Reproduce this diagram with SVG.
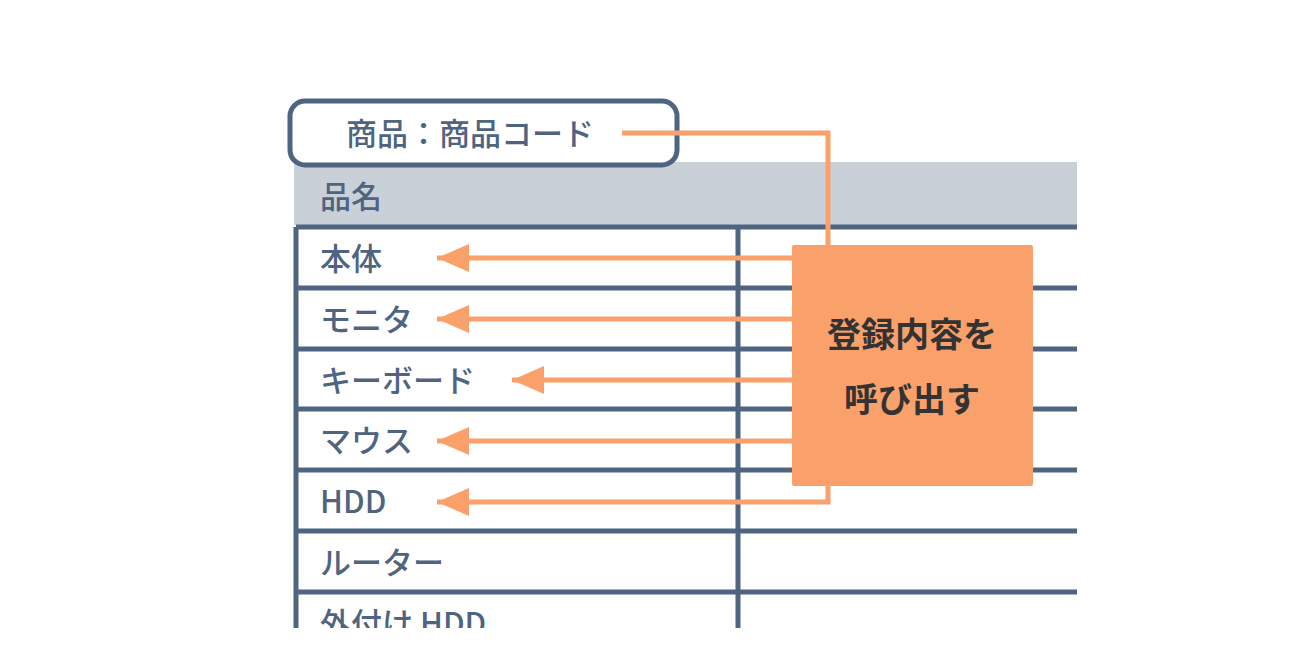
<svg xmlns="http://www.w3.org/2000/svg" width="1300" height="650" viewBox="0 0 1300 650">
<style>
.t{font-family:"Noto Sans CJK JP","Noto Sans",sans-serif;font-size:31px;font-weight:500;fill:#4f6480}
.g{stroke:#4f6480;stroke-width:5;fill:none}
.o{stroke:#f9a06b;stroke-width:5;fill:none}
.b{font-family:"Noto Sans CJK JP",sans-serif;font-size:34px;font-weight:700;fill:#333;text-anchor:middle}
</style>
<defs>
<marker id="ah" markerUnits="userSpaceOnUse" markerWidth="34" markerHeight="28" refX="32" refY="14" orient="auto"><path d="M0,0 L32,14 L0,28 Z" fill="#f9a06b"/></marker>
<clipPath id="c"><rect x="0" y="0" width="1300" height="628"/></clipPath>
</defs>
<g id="table" clip-path="url(#c)">
<rect x="294" y="162" width="783" height="63" fill="#c9d0d8"/>
<text class="t" x="320" y="208">品名</text>
<path class="g" d="M296,227V640 M738,227V640 M296,227H1077 M296,288H1077 M296,349H1077 M296,409H1077 M296,470H1077 M296,531H1077 M296,592H1077"/>
<text class="t" x="320" y="270">本体</text>
<text class="t" x="320" y="331">モニタ</text>
<text class="t" x="320" y="392">キーボード</text>
<text class="t" x="320" y="452">マウス</text>
<text class="t" x="320" y="513">HDD</text>
<text class="t" x="320" y="574">ルーター</text>
<text class="t" x="320" y="635">外付け HDD</text>
</g>
<g id="label">
<rect x="290" y="101" width="387" height="64" rx="15" fill="#fff" stroke="#4f6480" stroke-width="5"/>
<text class="t" x="346" y="145">商品：商品コード</text>
</g>
<g id="connectors">
<path class="o" d="M622,133H828V250"/>
<path class="o" d="M795,258H437" marker-end="url(#ah)"/>
<path class="o" d="M795,319H437" marker-end="url(#ah)"/>
<path class="o" d="M795,380H512" marker-end="url(#ah)"/>
<path class="o" d="M795,441H437" marker-end="url(#ah)"/>
<path class="o" d="M828,480V502H437" marker-end="url(#ah)"/>
</g>
<g id="box">
<rect x="792" y="245" width="241" height="241" rx="2" fill="#f9a06b"/>
<text class="b" x="912" y="347">登録内容を</text>
<text class="b" x="912" y="412">呼び出す</text>
</g>
</svg>
